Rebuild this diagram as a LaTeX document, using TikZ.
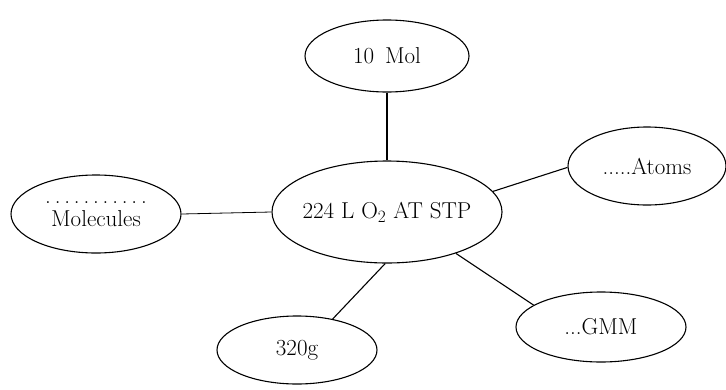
\documentclass[tikz,border=0pt]{standalone}
\usepackage{fontspec}
\usetikzlibrary{shapes.geometric}
\begin{document}
\begin{tikzpicture}[x=1pt,y=-1pt,
  oval/.style={draw,ellipse,line width=1.1pt,inner sep=0pt,font=\fontsize{23}{26}\selectfont\addfontfeature{LetterSpace=4}},
  link/.style={line width=1.1pt}]
\useasboundingbox (0,0) rectangle (726,389);
\node[oval,minimum width=164pt,minimum height=72pt] (mol) at (387,56) {10\, Mol};
\node[oval,inner xsep=-12pt,minimum width=230pt,minimum height=102pt] (stp) at (387,212) {224 L O$_2$ AT STP};
\node[oval,minimum width=170pt,minimum height=78pt,align=center] (mlc) at (96,214) {.\,.\,.\,.\,.\,.\,.\,.\,.\,.\,.\\[-3pt]Molecules};
\node[oval,minimum width=158pt,minimum height=78pt] (atm) at (647,166) {.....Atoms};
\node[oval,minimum width=170pt,minimum height=70pt] (gmm) at (601,327) {...GMM};
\node[oval,minimum width=160pt,minimum height=68pt] (g) at (297,350) {320g};
\draw[link] (mol) -- (stp);
\draw[link,line width=0.8pt] (mlc.east) -- (stp.west);
\draw[link] (stp.11) -- (atm.181.5);
\draw[link] (stp.-31) -- (gmm.162);
\draw[link] (stp.-92) -- (g.41.6);
\end{tikzpicture}
\end{document}
